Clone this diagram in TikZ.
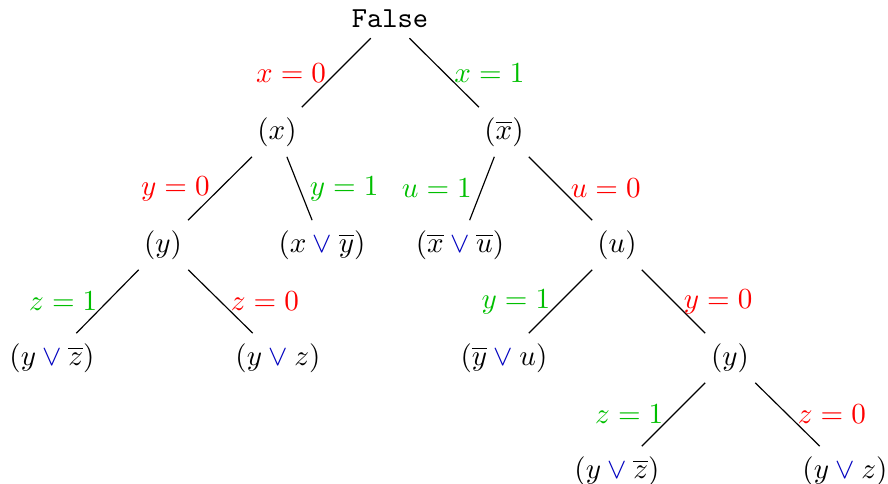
\documentclass[tikz,border=0pt]{standalone}
\usepackage{amsmath}
\newcommand{\bor}{\mathbin{\textcolor{blue!75!black}{\vee}}}
\tikzset{
	zero/.style = {midway, text = red},
	one/.style = {midway, text = green!75!black}
}
\begin{document}
\begin{tikzpicture} [x = 0.344pt, y = -0.344pt]
	\useasboundingbox (0,0) rectangle (888,484);
	\node (root) at (390,19) {\texttt{False}};
	\node (x) at (277,132) {$(x)$};
	\node (xb) at (504,132) {$(\overline{x})$};
	\node (y) at (163,245) {$(y)$};
	\node (xyb) at (322,245) {$(x \bor \overline{y})$};
	\node (xbub) at (460,245) {$(\overline{x} \bor \overline{u})$};
	\node (u) at (617,245) {$(u)$};
	\node (yzb) at (52,358) {$(y \bor \overline{z})$};
	\node (yz) at (278,358) {$(y \bor z)$};
	\node (ybu) at (504,358) {$(\overline{y} \bor u)$};
	\node (yy) at (730,358) {$(y)$};
	\node (yyzb) at (617,471) {$(y \bor \overline{z})$};
	\node (yyz) at (845,471) {$(y \bor z)$};
	% first level
	\draw (root) -- node [zero, left] {$x = 0$} (x);
	\draw (root) -- node [one, right] {$x = 1$} (xb);
	% second level
	\draw (x) -- node [zero, left] {$y = 0$} (y);
	\draw (x) -- node [one, right] {$y = 1$} (xyb);
	\draw (xb) -- node [one, left] {$u = 1$} (xbub);
	\draw (xb) -- node [zero, right] {$u = 0$} (u);
	% third level
	\draw (y) -- node [one, left] {$z = 1$} (yzb);
	\draw (y) -- node [zero, right] {$z = 0$} (yz);
	\draw (u) -- node [one, left] {$y = 1$} (ybu);
	\draw (u) -- node [zero, right] {$y = 0$} (yy);
	% last level
	\draw (yy) -- node [one, left] {$z = 1$} (yyzb);
	\draw (yy) -- node [zero, right] {$z = 0$} (yyz);
\end{tikzpicture}
\end{document}
